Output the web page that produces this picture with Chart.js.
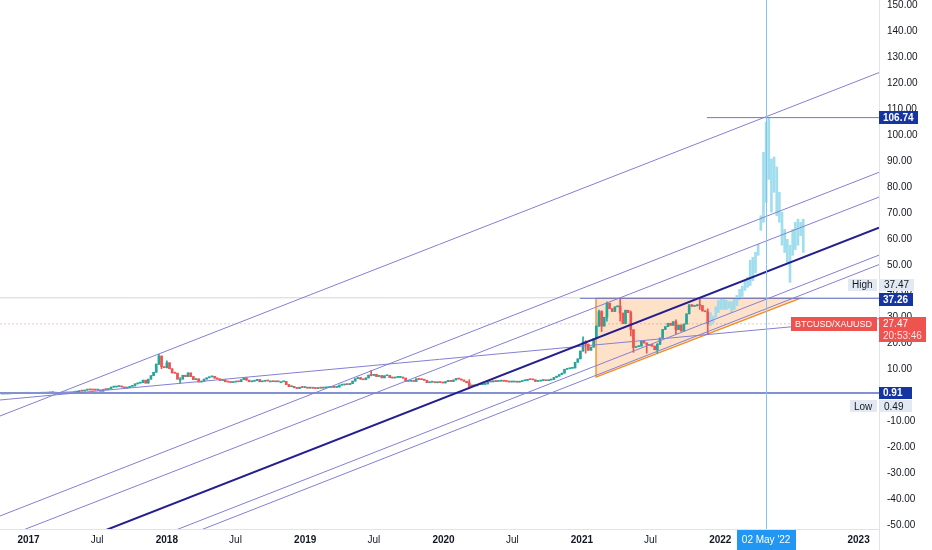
<!DOCTYPE html>
<html>
<head>
<meta charset="utf-8">
<script src="https://cdn.jsdelivr.net/npm/chart.js@4.4.1/dist/chart.umd.min.js"></script>
<style>
html,body{margin:0;padding:0;background:#fff;}
canvas{display:block;}
</style>
</head>
<body>
<canvas id="c" width="932" height="550"></canvas>
<script>
// ---------------- DATA ----------------
const candleStart = '2016-10-24';          // first weekly candle (Monday)
const firstOpen = 0.52;
const closes2016 = [0.55,0.54,0.57,0.60,0.62,0.65,0.67,0.70,0.78,0.87];
const closes2017 = [0.77,0.69,0.76,0.77,0.84,0.81,0.85,0.94,1.03,1.02,0.82,0.77,0.86,0.95,0.92,0.96,1.06,1.26,1.40,1.63,1.62,1.97,2.33,2.07,2.03,2.01,2.06,1.57,2.19,2.17,2.58,3.14,3.19,3.37,3.47,3.19,2.80,2.93,3.44,3.61,4.37,4.69,4.84,5.80,4.67,6.18,7.53,8.84,12.0,15.1,10.95,10.6];
const closes2018 = [12.5,10.2,8.6,8.5,6.2,6.2,7.7,7.2,8.6,7.2,6.0,6.3,5.1,5.3,6.2,6.7,7.1,7.3,6.6,6.3,5.7,5.9,5.2,5.1,4.9,5.1,5.3,5.2,6.0,6.7,5.8,5.2,5.4,5.6,6.1,5.2,5.4,5.6,5.5,5.5,5.2,5.3,5.2,5.2,5.3,4.1,3.3,3.4,2.9,2.6,3.1,3.0];
const closes2019 = [3.1,2.75,2.77,2.73,2.62,2.78,2.76,2.86,2.98,3.04,3.07,3.05,3.17,3.91,3.99,4.15,4.12,4.49,5.45,6.38,6.81,6.17,5.97,6.67,7.75,7.66,8.07,7.21,7.58,6.70,7.50,7.62,6.81,6.65,6.87,6.90,6.96,6.60,5.38,5.42,5.57,5.34,6.35,6.10,6.01,5.79,4.83,5.05,5.14,4.81,5.07,4.90,4.74];
const closes2020 = [5.26,5.72,5.31,5.88,6.45,6.25,5.87,5.39,4.81,3.50,3.91,3.65,4.20,4.10,4.22,4.37,5.24,5.14,5.54,5.30,5.46,5.73,5.43,5.34,5.11,5.13,5.14,5.06,5.24,5.59,5.70,6.12,6.01,5.95,5.33,5.49,5.69,5.77,5.61,5.88,6.06,6.89,7.34,7.94,8.50,10.0,10.2,10.4,10.5,12.7,14.0,17.0];
const closes2021 = [20.6,19.7,17.3,18.5,21.7,26.6,32.2,26.6,30.0,35.4,33.3,32.2,34.0,34.3,31.6,27.6,32.7,31.8,25.2,18.4,18.7,18.9,20.8,20.1,19.5,19.5,18.9,17.5,19.6,22.0,25.3,26.4,27.7,26.9,28.3,25.2,27.0,24.7,27.4,31.3,34.8,34.2,34.4,34.8,34.5,32.4,32.1,27.47];
// notable wicks: [week, high, low]
const wickList = [
  ['2017-12-11',15.7,11.8],['2017-12-18',15.0,10.2],['2018-01-01',13.2,10.5],['2018-02-05',6.8,4.6],
  ['2019-06-24',9.6,7.4],['2020-03-09',6.0,2.6],['2021-01-04',22.5,17.5],['2021-01-11',21.0,16.2],
  ['2021-02-15',32.8,26.5],['2021-02-22',32.5,24.5],['2021-03-08',35.9,28.5],['2021-04-12',37.2,28.5],
  ['2021-05-10',32.4,22.8],['2021-05-17',24.0,16.5],['2021-06-21',19.9,16.2],['2021-07-19',19.9,16.2],
  ['2021-09-06',29.0,23.5],['2021-11-08',37.3,33.0],['2021-11-29',33.2,23.6]
];
// projected bars pattern (weekly, high / low)
const cyanStart = '2021-12-06';
const cyanHigh = [31.8,30.5,34,36.4,37.5,37,36.5,36,36,37,38.4,40.7,42,44,45.3,51.9,53,55,58,69,93.4,105,106.74,90.8,91.6,87.8,78,70.4,63.8,60,57.7,63.8,66.5,67.7,66.5,67.7];
const cyanLow  = [26.8,28,30,31.8,33,33,33,33.5,31.8,33,34.5,36.8,38,40.3,41.5,42.2,44,47,53.8,63.4,66.5,74.2,83,70.4,78,69,66.5,57.7,54.9,51,43.4,53.8,56,57.7,61.4,54.9];

// axis ranges
const xMin = 2016.794, xMax = 2023.1474;
const yMin = -51.4, yMax = 151.95;
const xTickDates  = ['2017-01-01','2017-07-01','2018-01-01','2018-07-01','2019-01-01','2019-07-01','2020-01-01','2020-07-01','2021-01-01','2021-07-01','2022-01-01','2022-07-01','2023-01-01'];
const xTickLabels = ['2017','Jul','2018','Jul','2019','Jul','2020','Jul','2021','Jul','2022','Jul','2023'];

// drawings: parallel channel lines [year0, value0, year1, value1]
const channelLines = [
  [xMin,-7.96, xMax,124.04],
  [xMin,-46.40,xMax,85.72],
  [xMin,-55.24,xMax,76.19],
  [xMin,-78.22,xMax,53.89],
  [xMin,-81.99,xMax,50.24],
  [xMin,-1.81, xMax,29.44]
];
const mainLine = [xMin,-67.73,xMax,64.46];
const triangle = [[2021.102,37.29],[2021.102,7.03],[2022.5765,37.29],[2021.102,37.29]];
const athLevel = 106.74, athStart = 2021.904;
const resLevel = 37.26, resStart = 2020.986;
const baseLevel = 0.91;
const highValue = 37.47, lowValue = 0.49;
const lastPrice = 27.47, countdown = '20:53:46', symbol = 'BTCUSD/XAUUSD';
const markerDate = '2022-05-02', markerText = "02 May '22";

// ---------------- HELPERS ----------------
function toYear(ms){const d=new Date(ms);const y=d.getUTCFullYear();const a=Date.UTC(y,0,1),b=Date.UTC(y+1,0,1);return y+(ms-a)/(b-a);}
const DAY=864e5;
function weekYear(start,i){return toYear(Date.parse(start+'T00:00:00Z')+i*7*DAY);}
const startMs = Date.parse(candleStart+'T00:00:00Z');

const closes = [].concat(closes2016,closes2017,closes2018,closes2019,closes2020,closes2021);
const wickMap = {};
wickList.forEach(w=>{wickMap[Math.round((Date.parse(w[0]+'T00:00:00Z')-startMs)/(7*DAY))]=[w[1],w[2]];});
const UP='#26a69a', DOWN='#ef5350';
const bodies=[],wicks=[],bodyCol=[];
let prev=firstOpen;
closes.forEach((c,i)=>{
  const o=prev, xv=weekYear(candleStart,i);
  let hi=Math.max(o,c), lo=Math.min(o,c);
  if(wickMap[i]){hi=Math.max(hi,wickMap[i][0]);lo=Math.min(lo,wickMap[i][1]);}
  bodies.push({x:xv,y:[o,c]}); wicks.push({x:xv,y:[lo,hi]});
  bodyCol.push(c>=o?UP:DOWN);
  prev=c;
});
const cyanBars = cyanHigh.map((h,i)=>({x:weekYear(cyanStart,i),y:[cyanLow[i],h]}));
const markerYear = toYear(Date.parse(markerDate+'T00:00:00Z'));
const xTickValues = xTickDates.map(d=>toYear(Date.parse(d+'T00:00:00Z')));

function seg(p, color, width, order, dash){
  return {type:'line',data:[{x:p[0],y:p[1]},{x:p[2],y:p[3]}],borderColor:color,borderWidth:width,
    pointRadius:0,fill:false,tension:0,order:order,borderDash:dash||[]};
}
const FONT="'Liberation Sans', Arial, sans-serif";
const LINE='#847fd3', NAVY='#1535a0';

const datasets = [
  {type:'line',data:triangle.map(p=>({x:p[0],y:p[1]})),borderColor:'#f58a1f',borderWidth:1.3,
   backgroundColor:'rgba(247,140,40,0.25)',fill:'shape',pointRadius:0,tension:0,order:20},
  seg([xMin,highValue,xMax,highValue],'rgba(160,165,180,0.45)',1,19),
  seg([xMin,lastPrice,xMax,lastPrice],'rgba(239,83,80,0.35)',1,19,[2,2]),
  {type:'bar',data:wicks,backgroundColor:bodyCol,barThickness:1,grouped:false,borderWidth:0,order:15},
  {type:'bar',data:bodies,backgroundColor:bodyCol,barThickness:2,grouped:false,borderWidth:0,minBarLength:1,order:14},
  {type:'bar',data:cyanBars,backgroundColor:'rgba(150,218,236,0.9)',barThickness:2,grouped:false,borderWidth:0,order:13},
  seg([xMin,baseLevel,xMax,baseLevel],'#8290d6',2,6),
  seg([athStart,athLevel,xMax,athLevel],'#6d79c8',1,5),
  seg([resStart,resLevel,xMax,resLevel],'#6d79c8',1,5),
  ...channelLines.map(l=>seg(l,LINE,1,3)),
  seg(mainLine,'#231f8e',2,2)
];

// crisp vertical date marker line, positioned through the x scale
const markerLine = {
  id:'markerLine',
  afterDatasetsDraw(chart){
    const {ctx,chartArea:a,scales:{x}} = chart;
    const px=Math.round(x.getPixelForValue(markerYear))+0.5;
    ctx.save();ctx.strokeStyle='#82c3ee';ctx.lineWidth=1;
    ctx.beginPath();ctx.moveTo(px,a.top);ctx.lineTo(px,a.bottom);ctx.stroke();ctx.restore();
  }
};

const overlay = {
  id:'overlay',
  afterDraw(chart){
    const {ctx,scales:{x,y}} = chart;
    const ax = y.left;
    ctx.save();
    ctx.strokeStyle='#e0e3eb';ctx.lineWidth=1;
    ctx.beginPath();ctx.moveTo(Math.round(ax)+0.5,x.top);ctx.lineTo(Math.round(ax)+0.5,chart.height);ctx.stroke();
    ctx.textBaseline='middle';
    function box(x0,yc,h,bg,txt,fg,bold,rightAlign,minW,size){
      ctx.font=(bold?'bold ':'')+(size||10)+'px '+FONT;
      const w=Math.max(minW||0,Math.ceil(ctx.measureText(txt).width)+8);
      const bx=rightAlign?x0-w:x0;
      ctx.fillStyle=bg;ctx.fillRect(bx,Math.round(yc-h/2),w,h);
      ctx.fillStyle=fg;ctx.textAlign='left';
      ctx.fillText(txt,bx+4,yc+0.5);
    }
    const LIGHT='#e2e9f3';
    box(ax,y.getPixelForValue(athLevel),13,NAVY,athLevel.toFixed(2),'#fff',true);
    const yr=y.getPixelForValue(resLevel);
    box(ax-2,yr-13.5,12,LIGHT,'High','#131722',false,true);
    box(ax+1,yr-13.5,12,LIGHT,highValue.toFixed(2),'#131722',false);
    box(ax,yr+1,13,NAVY,resLevel.toFixed(2),'#fff',true);
    const yp=y.getPixelForValue(lastPrice);
    box(ax-2,yp,14,'#ef5350',symbol,'#fff',false,true,0,9);
    ctx.font='10px '+FONT;
    const pw=Math.ceil(ctx.measureText(countdown).width)+8;
    ctx.fillStyle='#ef5350';ctx.fillRect(ax,Math.round(yp-7),pw,25);
    ctx.textAlign='left';
    ctx.fillStyle='#fff';ctx.fillText(lastPrice.toFixed(2),ax+4,yp+0.5);
    ctx.fillStyle='#ffe3e2';ctx.fillText(countdown,ax+4,yp+12.5);
    const yb=y.getPixelForValue(baseLevel);
    box(ax,yb,12,NAVY,baseLevel.toFixed(2),'#fff',true,false,33);
    box(ax-2,yb+13.5,12,LIGHT,'Low','#131722',false,true);
    box(ax+1,yb+13.5,12,LIGHT,lowValue.toFixed(2),'#131722',false,false,32);
    const xm=x.getPixelForValue(markerYear);
    ctx.font='10px '+FONT;
    const mw=Math.ceil(ctx.measureText(markerText).width)+10;
    ctx.fillStyle='#2196f3';ctx.fillRect(Math.round(xm-mw/2),x.top+1,mw,20);
    ctx.fillStyle='#fff';ctx.textAlign='center';ctx.fillText(markerText,xm,x.top+11);
    ctx.restore();
  }
};

new Chart(document.getElementById('c'),{
  type:'line',
  data:{datasets},
  plugins:[markerLine,overlay],
  options:{
    responsive:false,animation:false,events:[],
    layout:{padding:0},
    plugins:{legend:{display:false},tooltip:{enabled:false}},
    scales:{
      x:{type:'linear',position:'bottom',min:xMin,max:xMax,offset:false,
        grid:{display:false,drawTicks:false,offset:false},border:{display:true,color:'#e0e3eb'},
        afterBuildTicks(s){s.ticks=xTickValues.map(v=>({value:v}));},
        afterFit(s){s.height=21;s.paddingLeft=0;s.paddingRight=0;s.paddingTop=0;s.paddingBottom=0;},
        ticks:{autoSkip:false,maxRotation:0,padding:5,color:'#131722',
          callback:(v,i)=>xTickLabels[i],
          font:(c)=>({family:FONT,size:10,weight:(c.tick&&/^\d{4}$/.test(c.tick.label))?'bold':'normal'})}
      },
      y:{type:'linear',position:'right',min:yMin,max:yMax,
        grid:{display:false,drawTicks:false},border:{display:true,color:'#e0e3eb'},
        afterFit(s){s.width=53;s.paddingLeft=0;s.paddingRight=0;s.paddingTop=0;s.paddingBottom=0;},
        ticks:{stepSize:10,includeBounds:false,padding:8,color:'#131722',
          font:{family:FONT,size:10},callback:v=>v.toFixed(2)}
      }
    }
  }
});
</script>
</body>
</html>
